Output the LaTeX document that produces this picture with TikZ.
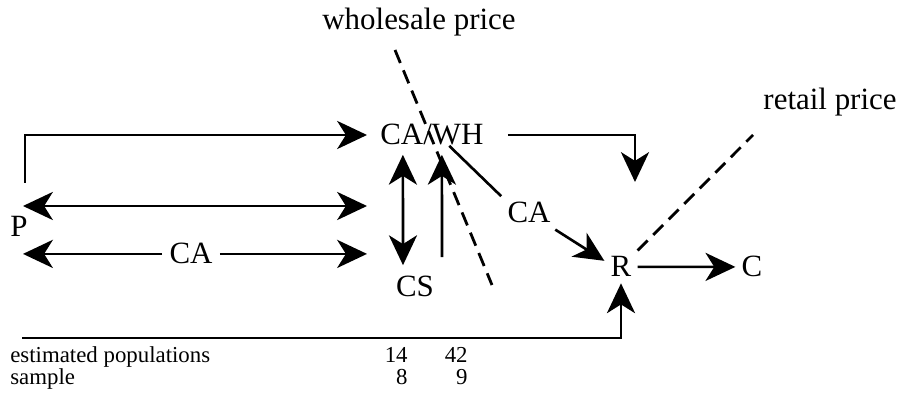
\documentclass[tikz,border=0pt]{standalone}
\usepackage{fontspec}
\setmainfont{Liberation Serif}
\usetikzlibrary{arrows.meta,calc}
\begin{document}
\begin{tikzpicture}[x=0.02cm,y=-0.02cm,
  lab/.style={font=\fontsize{17.6}{20}\selectfont, inner sep=0pt},
  small/.style={font=\fontsize{13}{14}\selectfont, inner sep=0pt},
  arr/.style={line width=1.5pt, -{Stealth[length=17pt,width=16pt,inset=5pt]}},
  darr/.style={line width=1.5pt, {Stealth[length=17pt,width=16pt,inset=5pt]}-{Stealth[length=17pt,width=16pt,inset=5pt]}},
  plainline/.style={line width=1.5pt},
  dashline/.style={line width=1.6pt, dash pattern=on 8pt off 4.5pt}
]
\useasboundingbox (0,0) rectangle (900,418);

% text nodes
\node[lab,anchor=base] (P) at (19,237) {P};
\node[lab,anchor=base west] (cawh) at (380,145) {CA/WH};
\node[lab,anchor=base] (cs) at (415,297) {CS};
\node[lab,anchor=base,inner sep=4pt] (ca1) at (191,264) {CA};
\node[lab,anchor=base,inner sep=3.4pt] (ca2) at (529,223) {CA};
\node[lab,anchor=base,inner sep=3.4pt] (R) at (621,277) {R};
\node[lab,anchor=base,inner sep=3.4pt] (C) at (752,277) {C};
\node[lab,anchor=base] (wp) at (419,30) {wholesale price};
\node[lab,anchor=base] (rp) at (830,110) {retail price};
\node[small,anchor=base west] (est) at (10,363) {estimated populations};
\node[small,anchor=base east] (n14) at (408,363) {14};
\node[small,anchor=base east] (n42) at (468,363) {42};
\node[small,anchor=base west] (smp) at (10,385) {sample};
\node[small,anchor=base east] (n8) at (408,385) {8};
\node[small,anchor=base east] (n9) at (468,385) {9};

% free ends
\coordinate (pTop) at (25,183);
\coordinate (a2l) at (23,206);
\coordinate (a2r) at (367,206);
\coordinate (a3l) at (23,253);
\coordinate (a3r) at (367,253);
\coordinate (wd1) at (395,50);
\coordinate (wd2) at (492,285);
\coordinate (rd) at (753,135);
\coordinate (rtip) at (635,182);
\coordinate (bl) at (22,338);

% connectors from P
\draw[arr] (pTop) |- ($(cawh.west)+(-13,0)$);
\draw[darr] (a2l) -- (a2r);
\draw[arr] (ca1.west) -- (ca1.west -| a3l);
\draw[arr] (ca1.east) -- (ca1.east -| a3r);

% CS <-> CA/WH and upward arrow
\draw[darr] ($(cs.north)+(-12,-11)$) -- ($(cawh.south)+(-29,9)$);
\draw[arr] ($(cs.north)+(27,-19)$) -- ($(cawh.south)+(10,9)$);

% dashed price lines
\draw[dashline] (wd1) -- (wd2);
\draw[dashline] (R.north east) -- (rd);

% CA/WH to R
\draw[arr] ($(cawh.east)+(24,0)$) -| (rtip);
\draw[plainline] (cawh.-32) -- (ca2.north west);
\draw[arr] (ca2) -- (R.160);

% R to C and bottom line
\draw[arr] (R) -- (C);
\draw[arr] (bl) -| (R.south);
\end{tikzpicture}
\end{document}
